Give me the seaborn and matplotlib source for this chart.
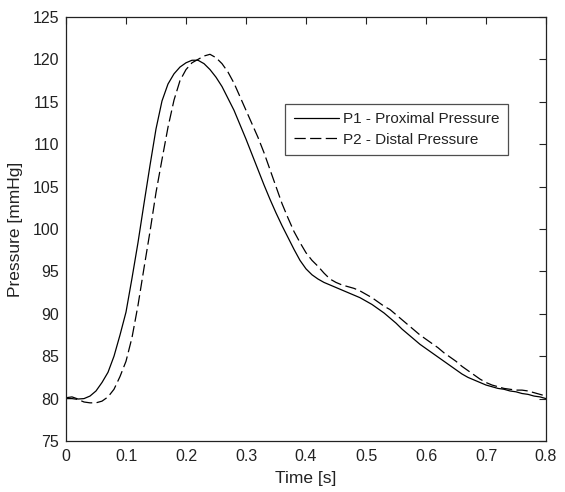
import numpy as np
import pandas as pd
import matplotlib
matplotlib.use("Agg")
import matplotlib.pyplot as plt
import seaborn as sns

time_s = [0.00, 0.01, 0.02, 0.03, 0.04, 0.05, 0.06, 0.07, 0.08, 0.09,
          0.10, 0.11, 0.12, 0.13, 0.14, 0.15, 0.16, 0.17, 0.18, 0.19,
          0.20, 0.21, 0.22, 0.23, 0.24, 0.25, 0.26, 0.27, 0.28, 0.29,
          0.30, 0.31, 0.32, 0.33, 0.34, 0.35, 0.36, 0.37, 0.38, 0.39,
          0.40, 0.41, 0.42, 0.43, 0.44, 0.45, 0.46, 0.47, 0.48, 0.49,
          0.50, 0.51, 0.52, 0.53, 0.54, 0.55, 0.56, 0.57, 0.58, 0.59,
          0.60, 0.61, 0.62, 0.63, 0.64, 0.65, 0.66, 0.67, 0.68, 0.69,
          0.70, 0.71, 0.72, 0.73, 0.74, 0.75, 0.76, 0.77, 0.78, 0.79, 0.80]

p1_proximal = [80.1, 80.2, 79.95, 80.0, 80.3, 80.9, 81.9, 83.1, 85.0, 87.5,
               90.2, 94.2, 98.4, 103.0, 107.5, 111.8, 115.1, 117.1, 118.3, 119.1,
               119.6, 119.9, 119.9, 119.5, 118.8, 117.9, 116.8, 115.4, 114.0, 112.3,
               110.6, 108.8, 107.0, 105.2, 103.5, 101.9, 100.4, 99.0, 97.6, 96.3,
               95.3, 94.6, 94.1, 93.7, 93.4, 93.1, 92.8, 92.5, 92.2, 91.9,
               91.5, 91.1, 90.6, 90.1, 89.5, 88.9, 88.2, 87.6, 87.0, 86.4,
               85.9, 85.4, 84.9, 84.4, 83.9, 83.4, 82.9, 82.5, 82.2, 81.9,
               81.6, 81.4, 81.2, 81.1, 80.9, 80.8, 80.6, 80.5, 80.3, 80.2, 80.0]

p2_distal = [80.0, 80.0, 79.9, 79.6, 79.5, 79.5, 79.7, 80.2, 81.1, 82.6,
             84.4, 87.2, 91.0, 95.4, 99.7, 104.3, 108.2, 112.0, 115.2, 117.5,
             118.8, 119.6, 120.0, 120.4, 120.6, 120.2, 119.5, 118.5, 117.2, 115.6,
             114.0, 112.4, 110.8, 109.0, 107.0, 105.0, 103.0, 101.3, 99.7, 98.4,
             97.2, 96.3, 95.6, 94.8, 94.1, 93.7, 93.4, 93.2, 93.0, 92.7,
             92.3, 91.9, 91.4, 90.9, 90.5, 89.9, 89.3, 88.7, 88.1, 87.5,
             87.0, 86.5, 86.0, 85.4, 84.9, 84.4, 83.8, 83.3, 82.8, 82.3,
             81.9, 81.6, 81.4, 81.2, 81.1, 81.0, 81.0, 80.9, 80.7, 80.5, 80.3]

series_names = ["P1 - Proximal Pressure", "P2 - Distal Pressure"]
x_ticks = [0, 0.1, 0.2, 0.3, 0.4, 0.5, 0.6, 0.7, 0.8]
x_tick_labels = ["0", "0.1", "0.2", "0.3", "0.4", "0.5", "0.6", "0.7", "0.8"]
y_ticks = [75, 80, 85, 90, 95, 100, 105, 110, 115, 120, 125]

sns.set_style("white")
plt.rcParams["font.family"] = ["Liberation Sans", "DejaVu Sans"]

df = pd.DataFrame({
    "Time": time_s * 2,
    "Pressure": p1_proximal + p2_distal,
    "Series": [series_names[0]] * len(time_s) + [series_names[1]] * len(time_s),
})

fig = plt.figure(figsize=(5.65, 4.92), dpi=100)
ax = fig.add_axes([66 / 565, 1 - 441 / 492, 480 / 565, 424 / 492])

sns.lineplot(data=df, x="Time", y="Pressure", hue="Series", style="Series",
             palette=["black", "black"],
             dashes={series_names[0]: "", series_names[1]: (9, 3.5)},
             linewidth=0.9, ax=ax, sort=False, estimator=None)

ax.set_xlim(0, 0.8)
ax.set_ylim(75, 125)
ax.set_xticks(x_ticks)
ax.set_xticklabels(x_tick_labels)
ax.set_yticks(y_ticks)
ax.tick_params(direction="in", length=5, width=0.8, top=True, right=True,
               labelsize=11.5, colors="#222222")
ax.tick_params(axis="x", pad=6)
ax.tick_params(axis="y", pad=5)
for s in ax.spines.values():
    s.set_color("#222222")
    s.set_linewidth(0.9)
ax.set_xlabel("Time [s]", fontsize=12.5, color="#222222", labelpad=5)
ax.set_ylabel("Pressure [mmHg]", fontsize=12.5, color="#222222", labelpad=7)

leg = ax.legend(loc="upper right", bbox_to_anchor=(0.921, 0.795),
                borderaxespad=0, frameon=True, fancybox=False,
                fontsize=11, handlelength=3.0, handletextpad=0.25,
                borderpad=0.55, labelspacing=0.42)
leg.get_frame().set_edgecolor("#222222")
leg.get_frame().set_linewidth(0.9)
for t in leg.get_texts():
    t.set_color("#222222")

fig.savefig("out.png", dpi=100, facecolor="white")
